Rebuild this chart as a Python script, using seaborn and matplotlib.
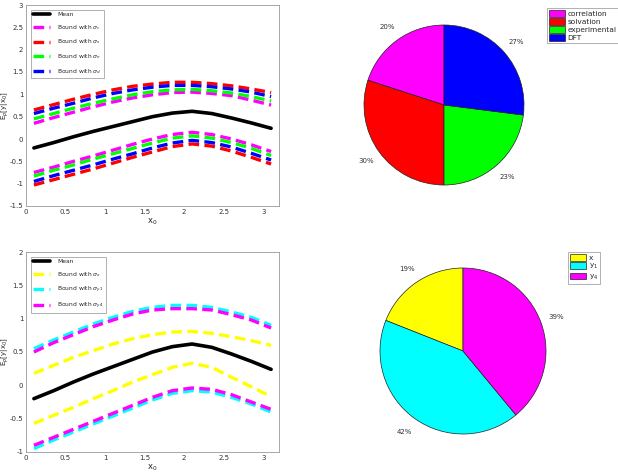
import numpy as np
import pandas as pd
import matplotlib
matplotlib.use("Agg")
import matplotlib.pyplot as plt
import seaborn as sns

# shared x grid
x0 = [0.1, 0.35, 0.6, 0.85, 1.1, 1.35, 1.6, 1.85, 2.1, 2.35, 2.6, 2.85, 3.1]
mean = [-0.2, -0.08, 0.05, 0.17, 0.28, 0.39, 0.5, 0.58, 0.62, 0.57, 0.47, 0.36, 0.24]

# top-left bounds
up_c = [0.35, 0.48, 0.6, 0.72, 0.83, 0.92, 0.99, 1.04, 1.05, 1.02, 0.97, 0.87, 0.76]
lo_c = [-0.75, -0.63, -0.5, -0.38, -0.25, -0.12, 0.0, 0.1, 0.15, 0.1, 0.0, -0.13, -0.28]
up_s = [0.65, 0.77, 0.89, 1.0, 1.1, 1.18, 1.23, 1.27, 1.27, 1.24, 1.19, 1.12, 1.04]
lo_s = [-1.03, -0.91, -0.79, -0.67, -0.54, -0.41, -0.29, -0.17, -0.11, -0.16, -0.27, -0.41, -0.56]
up_e = [0.45, 0.57, 0.69, 0.8, 0.9, 0.99, 1.06, 1.1, 1.11, 1.08, 1.03, 0.95, 0.85]
lo_e = [-0.83, -0.7, -0.58, -0.45, -0.33, -0.21, -0.09, 0.02, 0.07, 0.02, -0.08, -0.21, -0.37]
up_d = [0.57, 0.69, 0.8, 0.92, 1.02, 1.1, 1.16, 1.2, 1.2, 1.17, 1.12, 1.05, 0.95]
lo_d = [-0.95, -0.82, -0.7, -0.58, -0.45, -0.33, -0.2, -0.09, -0.03, -0.08, -0.18, -0.32, -0.47]

# bottom-left bounds
up_x = [0.18, 0.3, 0.42, 0.52, 0.62, 0.7, 0.76, 0.8, 0.81, 0.78, 0.73, 0.67, 0.6]
lo_x = [-0.57, -0.45, -0.33, -0.2, -0.08, 0.05, 0.16, 0.27, 0.33, 0.27, 0.12, -0.02, -0.17]
up_y1 = [0.55, 0.68, 0.8, 0.92, 1.02, 1.11, 1.17, 1.2, 1.2, 1.17, 1.1, 1.02, 0.9]
lo_y1 = [-0.95, -0.82, -0.7, -0.58, -0.46, -0.34, -0.22, -0.12, -0.08, -0.1, -0.18, -0.28, -0.4]
up_y4 = [0.5, 0.64, 0.76, 0.88, 0.98, 1.07, 1.13, 1.15, 1.15, 1.13, 1.06, 0.98, 0.86]
lo_y4 = [-0.9, -0.78, -0.66, -0.54, -0.42, -0.3, -0.18, -0.08, -0.04, -0.06, -0.14, -0.25, -0.36]

# pies
pie1_labels = ["correlation", "solvation", "experimental", "DFT"]
pie1_values = [20, 30, 23, 27]
pie1_colors = ["#ff00ff", "#ff0000", "#00ff00", "#0000ff"]
pie2_labels = ["x", "y$_1$", "y$_4$"]
pie2_values = [19, 42, 39]
pie2_colors = ["#ffff00", "#00ffff", "#ff00ff"]

sns.set_style("white")
plt.rcParams["font.family"] = ["DejaVu Sans"]

W, H = 618, 475
fig = plt.figure(figsize=(W / 100, H / 100), dpi=100)


def px_axes(left, top, right, bottom):
    return fig.add_axes([left / W, 1 - bottom / H, (right - left) / W, (bottom - top) / H])


dash = (0, (3.2, 1.6))


def curve_panel(ax, bounds, ylim, yticks):
    sns.lineplot(x=x0, y=mean, ax=ax, color="black", lw=2.6, label="Mean")
    for col, lab, up, lo in bounds:
        sns.lineplot(x=x0, y=up, ax=ax, color=col, lw=2.4, linestyle=dash, label=lab)
        sns.lineplot(x=x0, y=lo, ax=ax, color=col, lw=2.4, linestyle=dash)
    ax.set_xlim(0, 3.2)
    ax.set_ylim(*ylim)
    ax.set_xticks([0, 0.5, 1, 1.5, 2, 2.5, 3])
    ax.set_xticklabels(["0", "0.5", "1", "1.5", "2", "2.5", "3"])
    ax.set_yticks(yticks)
    ax.set_yticklabels([("%g" % t) for t in yticks])
    ax.tick_params(direction="in", length=2, labelsize=5, colors="#333333", pad=2)
    for s in ax.spines.values():
        s.set_color("#999999")
        s.set_linewidth(0.6)
    ax.set_xlabel("x$_0$", fontsize=6, labelpad=1)
    ax.set_ylabel("E$_p$[y|x$_0$]", fontsize=5)
    ax.yaxis.set_label_coords(-0.058, 0.5)
    leg = ax.legend(loc="upper left", fontsize=4.3, handlelength=2.8, frameon=True,
                    fancybox=False, edgecolor="#777777", borderaxespad=0.8,
                    labelspacing=0.95, handletextpad=1.2)
    leg.get_frame().set_linewidth(0.5)


ax1 = px_axes(26, 5, 279, 206)
curve_panel(ax1, [("#ff00ff", r"Bound with $\sigma_c$", up_c, lo_c),
                  ("#ff0000", r"Bound with $\sigma_s$", up_s, lo_s),
                  ("#00ff00", r"Bound with $\sigma_e$", up_e, lo_e),
                  ("#0000ff", r"Bound with $\sigma_d$", up_d, lo_d)],
            (-1.5, 3), [-1.5, -1, -0.5, 0, 0.5, 1, 1.5, 2, 2.5, 3])

ax2 = px_axes(26, 252, 279, 452)
curve_panel(ax2, [("#ffff00", r"Bound with $\sigma_x$", up_x, lo_x),
                  ("#00ffff", r"Bound with $\sigma_{y1}$", up_y1, lo_y1),
                  ("#ff00ff", r"Bound with $\sigma_{y4}$", up_y4, lo_y4)],
            (-1, 2), [-1, -0.5, 0, 0.5, 1, 1.5, 2])


def pie_panel(cx, cy, r, labels, values, colors, leg_anchor):
    size = 2.5 * r
    ax = px_axes(cx - size / 2, cy - size / 2, cx + size / 2, cy + size / 2)
    wedges, _, autot = ax.pie(values, colors=colors, startangle=90, counterclock=True,
                              autopct="%d%%", pctdistance=1.2,
                              wedgeprops=dict(edgecolor="#222222", linewidth=0.5))
    for t in autot:
        t.set_fontsize(5)
        t.set_color("#333333")
    ax.set_xlim(-1.25, 1.25)
    ax.set_ylim(-1.25, 1.25)
    ax.set_aspect("equal")
    leg = fig.legend(wedges, labels, loc="upper left", bbox_to_anchor=leg_anchor,
                     fontsize=5.3, frameon=True, fancybox=False, edgecolor="#777777",
                     handlelength=2.2, handleheight=1.0, labelspacing=0.15,
                     handletextpad=0.3, borderpad=0.3, borderaxespad=0)
    leg.get_frame().set_linewidth(0.5)
    return ax


pie_panel(444, 105, 80, pie1_labels, pie1_values, pie1_colors, (547 / W, 1 - 8 / H))
pie_panel(463, 351, 83, pie2_labels, pie2_values, pie2_colors, (568 / W, 1 - 252 / H))

fig.savefig("out.png", dpi=100)
